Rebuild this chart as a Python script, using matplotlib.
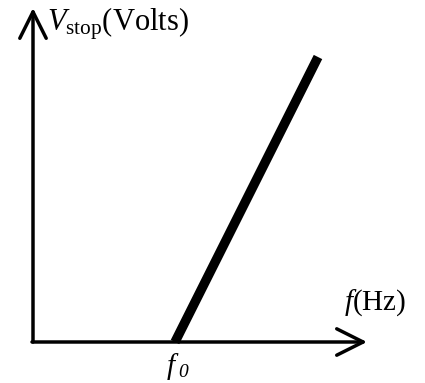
import matplotlib
matplotlib.use('Agg')
import matplotlib.pyplot as plt

plt.rcParams['font.family'] = ['Liberation Serif', 'DejaVu Serif']
plt.rcParams['mathtext.fontset'] = 'custom'
plt.rcParams['mathtext.rm'] = 'Liberation Serif'
plt.rcParams['mathtext.it'] = 'Liberation Serif:italic'

# stopping voltage vs frequency (arbitrary units, zero below f0)
freq = [142, 285]
vstop = [0, 285]
f0 = 142

fig = plt.figure(figsize=(4.25, 3.83), dpi=100)
ax = fig.add_axes([0, 0, 1, 1])
# origin of the plot sits at pixel (33, 342)
ax.set_xlim(-33, 392)
ax.set_ylim(-41, 342)
ax.axis('off')

arrow = dict(arrowstyle='->,head_length=1.9,head_width=0.95', lw=2.5,
             color='black', mutation_scale=10, shrinkA=0, shrinkB=0)
ax.annotate('', xy=(0, 334), xytext=(0, 0), arrowprops=arrow)
ax.annotate('', xy=(334, 0), xytext=(-1, 0), arrowprops=arrow)

ax.plot(freq, vstop, color='black', lw=6.8, solid_capstyle='butt')

ax.text(14, 337, r'$V_{\rm stop}$(Volts)', fontsize=22, va='top', ha='left')
ax.text(311, 39, r'$f$(Hz)', fontsize=21, va='center', ha='left')
# f0 label, subscript drawn separately so the 0 stays italic
ax.text(f0 - 4, -32, 'f', fontsize=21, style='italic', va='baseline', ha='center')
ax.text(f0 + 3, -35, '0', fontsize=14, style='italic', va='baseline', ha='left')

fig.savefig('out.png', dpi=100)
